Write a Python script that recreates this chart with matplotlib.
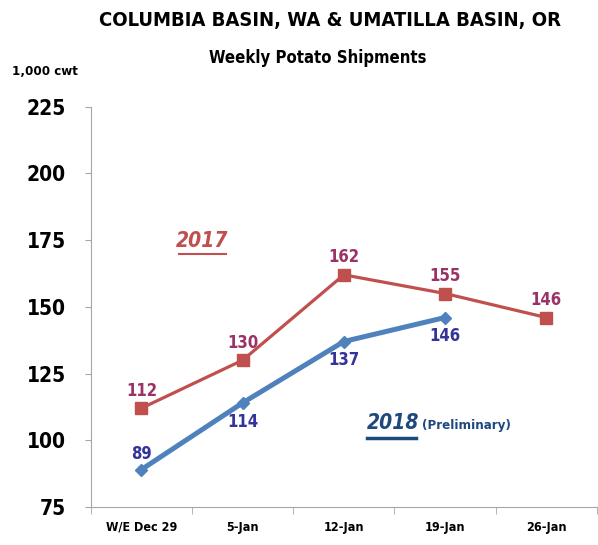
import matplotlib.pyplot as plt
import numpy as np

weeks = ["W/E Dec 29", "5-Jan", "12-Jan", "19-Jan", "26-Jan"]
ship_2017 = [112, 130, 162, 155, 146]
ship_2018 = [89, 114, 137, 146]
yticks = [75, 100, 125, 150, 175, 200, 225]

RED = "#C0504D"
RED_LBL = "#993366"
BLUE = "#4F81BD"
BLUE_LBL = "#333399"
NAVY = "#1F497D"

plt.rcParams["font.family"] = ["DejaVu Sans"]
plt.rcParams["font.stretch"] = "condensed"
plt.rcParams["font.weight"] = "bold"

fig = plt.figure(figsize=(5.98, 5.45), dpi=100)
ax = fig.add_axes([0.152, 0.07, 0.846, 0.734])

x = np.arange(len(weeks))
ax.plot(x, ship_2017, color=RED, lw=2.3, marker="s", ms=8, zorder=3)
ax.plot(x[:len(ship_2018)], ship_2018, color=BLUE, lw=3.6, marker="D", ms=6.5, zorder=3)

for xi, v in zip(x, ship_2017):
    ax.annotate(str(v), (xi, v), xytext=(0, 6), textcoords="offset points",
                ha="center", va="bottom", fontsize=12, color=RED_LBL)
for i, (xi, v) in enumerate(zip(x, ship_2018)):
    if i == 0:
        ax.annotate(str(v), (xi, v), xytext=(0, 5), textcoords="offset points",
                    ha="center", va="bottom", fontsize=12, color=BLUE_LBL)
    else:
        ax.annotate(str(v), (xi, v), xytext=(0, -7), textcoords="offset points",
                    ha="center", va="top", fontsize=12, color=BLUE_LBL)

ax.text(0.6, 174.5, "2017", fontsize=15, style="italic", color=RED, ha="center",
        va="center")
ax.plot([0.37, 0.84], [169.9, 169.9], color=RED, lw=1.5)
ax.text(2.232, 106.5, "2018", fontsize=15, style="italic", color=NAVY, ha="left",
        va="center")
ax.plot([2.232, 2.715], [100.9, 100.9], color=NAVY, lw=2.5)
ax.text(2.77, 105.4, "(Preliminary)", fontsize=9.5, color=NAVY, ha="left", va="center")

ax.set_xlim(-0.5, len(weeks) - 0.5)
ax.set_ylim(75, 225)
ax.set_yticks(yticks)
ax.set_yticklabels([str(t) for t in yticks], fontsize=15)
ax.set_xticks(x)
ax.set_xticklabels(weeks, fontsize=9)
ax.set_xticks(np.arange(len(weeks) + 1) - 0.5, minor=True)
ax.tick_params(axis="x", which="major", length=0, pad=10)
ax.tick_params(axis="x", which="minor", length=5, color="#A6A6A6")
ax.tick_params(axis="y", length=4, color="#A6A6A6", pad=14)
for s in ["top", "right"]:
    ax.spines[s].set_visible(False)
for s in ["left", "bottom"]:
    ax.spines[s].set_color("#A6A6A6")

fig.text(0.552, 0.963, "COLUMBIA BASIN, WA & UMATILLA BASIN, OR", fontsize=14.5,
         ha="center", va="center")
fig.text(0.532, 0.893, "Weekly Potato Shipments", fontsize=12, ha="center", va="center")
fig.text(0.02, 0.868, "1,000 cwt", fontsize=9.5, ha="left", va="center")

fig.savefig("out.png", dpi=100)
